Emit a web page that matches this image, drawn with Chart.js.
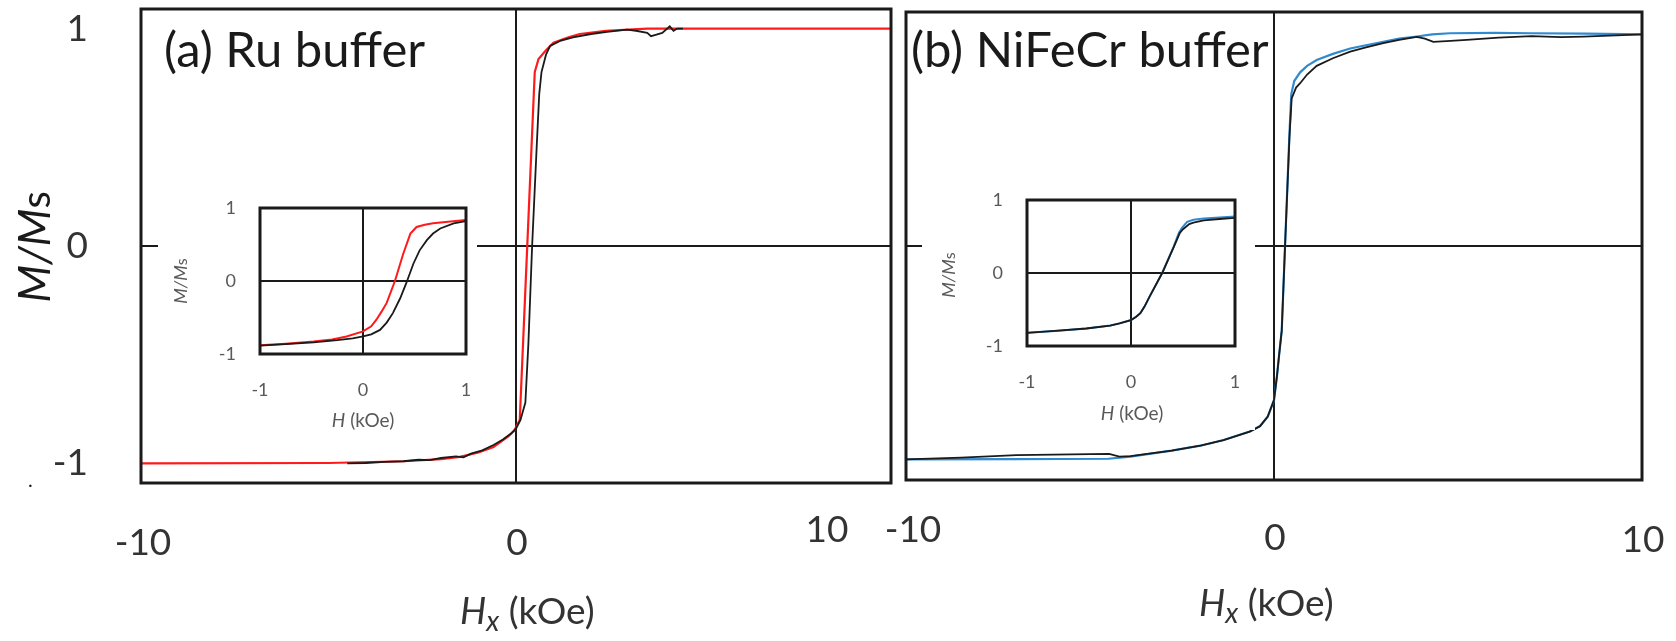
<!DOCTYPE html>
<html>
<head>
<meta charset="utf-8">
<script src="https://cdn.jsdelivr.net/npm/chart.js@4/dist/chart.umd.min.js"></script>
<style>
  html, body { margin: 0; padding: 0; background: #fff; }
  #wrap { position: relative; width: 1676px; height: 641px; overflow: hidden; }
  canvas { position: absolute; }
  #cA { left: 0; top: 0; }
  #cB { left: 860px; top: 0; }
  #iA { left: 158px; top: 190px; background: #fff; }
  #iB { left: 922px; top: 185px; background: #fff; }
</style>
</head>
<body>
<div id="wrap">
  <canvas id="cA" width="898" height="641"></canvas>
  <canvas id="cB" width="816" height="641"></canvas>
  <canvas id="iA" width="319" height="245"></canvas>
  <canvas id="iB" width="333" height="245"></canvas>
</div>
<script>
/* ===== DATA: [H (kOe), M/Ms] ===== */
const mainXTicks = [-10, 0, 10];
const mainYTicks = [-1, 0, 1];
const insetTicks = [-1, 0, 1];

// (a) Ru buffer, main loop
const ruRed = [[-10,-1],[-5,-0.998],[-3,-0.99],[-2,-0.98],[-1.5,-0.97],[-1,-0.95],[-0.6,-0.925],[-0.4,-0.9],
  [-0.2,-0.875],[-0.05,-0.85],[0.1,-0.8],[0.2,-0.4],[0.3,0],[0.4,0.4],[0.5,0.8],[0.6,0.86],[0.8,0.9],
  [1.0,0.935],[1.4,0.96],[1.7,0.975],[2.4,0.99],[3.5,1.0],[10,1.0]];
const ruBlack = [[-4.5,-1.0],[-4,-0.998],[-3.5,-0.993],[-3,-0.99],[-2.6,-0.983],[-2.3,-0.985],[-2,-0.975],
  [-1.6,-0.968],[-1.4,-0.972],[-1.2,-0.955],[-0.9,-0.94],[-0.6,-0.915],[-0.35,-0.89],[-0.15,-0.865],[0,-0.84],
  [0.12,-0.8],[0.25,-0.72],[0.33,-0.45],[0.43,0],[0.55,0.45],[0.62,0.7],[0.68,0.8],[0.8,0.88],[0.91,0.92],
  [1.2,0.945],[1.52,0.96],[2.0,0.975],[2.43,0.985],[2.96,0.995],[3.2,0.99],[3.5,0.98],[3.6,0.965],[3.7,0.97],
  [3.9,0.98],[4.1,1.01],[4.2,0.99],[4.3,1.0],[4.45,1.0]];

// (b) NiFeCr buffer, main loop
const nfcBlue = [[-10,-0.983],[-7,-0.982],[-4.5,-0.98],[-3.9,-0.97],[-2.78,-0.943],[-2,-0.92],[-1.37,-0.894],
  [-0.66,-0.855],[-0.38,-0.83],[-0.17,-0.786],[0,-0.71],[0.08,-0.6],[0.14,-0.5],[0.21,-0.39],[0.3,0],
  [0.42,0.52],[0.47,0.7],[0.55,0.76],[0.71,0.8],[0.9,0.83],[1.16,0.857],[1.6,0.885],[2.07,0.91],[2.5,0.925],
  [2.97,0.94],[3.4,0.955],[3.88,0.965],[4.3,0.975],[4.78,0.98],[6,0.982],[7,0.98],[8.5,0.978],[10,0.975]];
const nfcBlack = [[-10,-0.983],[-8.5,-0.975],[-7,-0.963],[-5.5,-0.96],[-4.48,-0.958],[-4.2,-0.97],[-3.9,-0.968],
  [-2.78,-0.943],[-2,-0.92],[-1.37,-0.894],[-0.66,-0.855],[-0.38,-0.83],[-0.17,-0.786],[0,-0.71],[0.08,-0.6],
  [0.14,-0.5],[0.21,-0.39],[0.3,0],[0.42,0.5],[0.48,0.68],[0.6,0.73],[0.71,0.75],[0.9,0.79],[1.16,0.83],
  [1.6,0.865],[2.07,0.895],[2.5,0.915],[2.97,0.935],[3.4,0.95],[3.88,0.963],[4.1,0.955],[4.33,0.94],
  [4.8,0.945],[5.24,0.95],[6.1,0.96],[7,0.967],[7.8,0.962],[8.4,0.965],[9.3,0.97],[10,0.975]];

// insets, H (kOe)
const ruInsetRed = [[-1,-0.88],[-0.75,-0.86],[-0.48,-0.83],[-0.3,-0.8],[-0.16,-0.76],[0,-0.69],[0.08,-0.62],
  [0.13,-0.53],[0.18,-0.42],[0.23,-0.3],[0.31,0],[0.39,0.37],[0.46,0.65],[0.52,0.74],[0.6,0.77],[0.68,0.79],
  [0.85,0.815],[1.0,0.835]];
const ruInsetBlack = [[-1,-0.885],[-0.75,-0.865],[-0.48,-0.84],[-0.25,-0.81],[-0.1,-0.785],[0,-0.76],[0.08,-0.73],
  [0.165,-0.67],[0.23,-0.57],[0.29,-0.44],[0.36,-0.24],[0.42,-0.03],[0.49,0.24],[0.55,0.42],[0.62,0.56],
  [0.68,0.65],[0.75,0.72],[0.88,0.79],[1.0,0.82]];
const nfcInsetBlue = [[-1,-0.82],[-0.7,-0.79],[-0.43,-0.76],[-0.2,-0.72],[-0.11,-0.69],[0,-0.645],[0.05,-0.6],
  [0.09,-0.55],[0.13,-0.46],[0.18,-0.32],[0.3,0],[0.41,0.36],[0.46,0.55],[0.49,0.62],[0.54,0.7],[0.6,0.73],
  [0.7,0.745],[0.85,0.76],[1.0,0.775]];
const nfcInsetBlack = [[-1,-0.82],[-0.7,-0.79],[-0.43,-0.76],[-0.2,-0.72],[-0.11,-0.69],[0,-0.645],[0.05,-0.6],
  [0.09,-0.55],[0.13,-0.46],[0.18,-0.32],[0.3,0],[0.41,0.35],[0.47,0.55],[0.5,0.6],[0.56,0.67],[0.6,0.69],
  [0.7,0.72],[0.85,0.74],[1.0,0.755]];

/* ===== HELPERS ===== */
const FONT = 'Lato, "Open Sans", sans-serif';
const INK = '#1a1a1a';
const GREY = '#595959';
const RED = '#ff1a1a', BLUE = '#2f8ad0';
const toXY = arr => arr.map(([x, y]) => ({ x, y }));
const zeroOnly = c => (c.tick && c.tick.value === 0 ? INK : 'rgba(0,0,0,0)');

// draw a run of text pieces (italic / smaller / shifted parts)
function drawRich(ctx, s) {
  const fontOf = p => `${p.italic ? 'italic ' : ''}${p.size || s.size}px ${FONT}`;
  ctx.save();
  ctx.fillStyle = s.color || INK;
  ctx.textAlign = 'left';
  ctx.textBaseline = 'alphabetic';
  let w = 0;
  s.parts.forEach(p => { ctx.font = fontOf(p); w += ctx.measureText(p.t).width; });
  ctx.translate(s.x, s.y);
  if (s.rot) ctx.rotate(s.rot);
  let cx = s.align === 'center' ? -w / 2 : 0;
  s.parts.forEach(p => {
    ctx.font = fontOf(p);
    ctx.fillText(p.t, cx, p.dy || 0);
    cx += ctx.measureText(p.t).width;
  });
  ctx.restore();
}

// Plugin: box round the plot, hand-placed x labels, titles
const frameText = {
  id: 'frameText',
  afterDraw(chart, args, o) {
    const { ctx, chartArea: a } = chart;
    ctx.save();
    ctx.strokeStyle = INK;
    ctx.lineWidth = o.frameWidth || 3;
    ctx.strokeRect(a.left, a.top, a.right - a.left, a.bottom - a.top);
    ctx.restore();
    if (o.xLabels) {
      const xs = chart.scales.x, L = o.xLabels;
      ctx.save();
      ctx.font = `${L.size}px ${FONT}`;
      ctx.fillStyle = L.color;
      ctx.textAlign = 'center';
      ctx.textBaseline = 'middle';
      L.values.forEach((v, i) => {
        const [dx, y] = L.place[i];
        ctx.fillText(String(v), xs.getPixelForValue(v) + dx, y);
      });
      ctx.restore();
    }
    (o.texts || []).forEach(t => drawRich(ctx, t));
  }
};

function makeChart(id, datasets, c) {
  return new Chart(document.getElementById(id), {
    type: 'scatter',
    data: {
      datasets: datasets.map(d => ({
        data: toXY(d.data), borderColor: d.color, borderWidth: d.width,
        showLine: true, pointRadius: 0, fill: false, tension: 0
      }))
    },
    options: {
      responsive: false, animation: false, events: [],
      layout: { padding: c.padding },
      plugins: { legend: { display: false }, tooltip: { enabled: false }, frameText: c.frame },
      scales: {
        x: {
          type: 'linear', min: c.xMin, max: c.xMax,
          afterBuildTicks: s => { s.ticks = c.xTicks.map(v => ({ value: v })); },
          afterFit: s => { s.height = c.xHeight; s.paddingLeft = 0; s.paddingRight = 0; },
          border: { display: false },
          grid: { drawTicks: false, lineWidth: 2, color: zeroOnly },
          ticks: Object.assign({ maxRotation: 0, autoSkip: false }, c.xTickOpts)
        },
        y: {
          type: 'linear', min: c.yMin, max: c.yMax,
          afterBuildTicks: s => { s.ticks = c.yTicks.map(v => ({ value: v })); },
          // tick padding would otherwise push the plot top down
          afterFit: s => { s.width = c.yWidth; s.paddingTop = 0; s.paddingBottom = 0; },
          border: { display: false },
          grid: { drawTicks: false, lineWidth: 2, color: zeroOnly },
          ticks: Object.assign({ autoSkip: false }, c.yTickOpts)
        }
      }
    },
    plugins: [frameText]
  });
}

const mainTick = { family: FONT, size: 37 };
const insetTick = { family: FONT, size: 18 };
const hxTitle = [{ t: 'H', italic: true }, { t: 'x', italic: true, size: 28, dy: 7 }, { t: ' (kOe)' }];

/* ===== (a) Ru buffer ===== */
makeChart('cA', [
  { data: ruBlack, color: INK, width: 1.8 },
  { data: ruRed, color: RED, width: 2.2 }
], {
  padding: { top: 9, right: 7, left: 0, bottom: 0 },
  xMin: -10, xMax: 10, yMin: -1.09, yMax: 1.09,
  xTicks: mainXTicks, yTicks: mainYTicks, xHeight: 158, yWidth: 141,
  xTickOpts: { display: false },
  yTickOpts: { display: true, font: mainTick, color: '#333', padding: 53 },
  frame: {
    xLabels: { values: mainXTicks, size: 37, color: '#333', place: [[2, 543], [1, 543], [-64, 530]] },
    texts: [
      { x: 164, y: 67, size: 49, parts: [{ t: '(a) Ru buffer' }] },
      { x: 50, y: 247, rot: -Math.PI / 2, align: 'center', size: 44,
        parts: [{ t: 'M/M', italic: true }, { t: 's', size: 40 }] },
      { x: 460, y: 624, size: 37, color: '#333', parts: hxTitle },
      { x: 28, y: 487, size: 20, parts: [{ t: '.' }] }
    ]
  }
});

/* ===== (b) NiFeCr buffer ===== */
makeChart('cB', [
  { data: nfcBlack, color: INK, width: 1.8 },
  { data: nfcBlue, color: BLUE, width: 2.2 }
], {
  padding: { top: 12, right: 34, left: 0, bottom: 0 },
  xMin: -10, xMax: 10, yMin: -1.078, yMax: 1.078,
  xTicks: mainXTicks, yTicks: mainYTicks, xHeight: 161, yWidth: 46,
  xTickOpts: { display: false },
  yTickOpts: { display: false },
  frame: {
    xLabels: { values: mainXTicks, size: 37, color: '#333', place: [[7, 530], [1, 538], [1, 540]] },
    texts: [
      { x: 51, y: 67, size: 49, parts: [{ t: '(b) NiFeCr buffer' }] },
      { x: 339, y: 616, size: 37, color: '#333', parts: hxTitle }
    ]
  }
});

/* ===== insets ===== */
function inset(id, sets, pad, xH, yW, titlePos, yTitlePos) {
  makeChart(id, sets, {
    padding: pad,
    xMin: -1, xMax: 1, yMin: -1, yMax: 1,
    xTicks: insetTicks, yTicks: insetTicks, xHeight: xH, yWidth: yW,
    xTickOpts: { display: true, font: insetTick, color: GREY, padding: 25 },
    yTickOpts: { display: true, font: insetTick, color: GREY, padding: 24 },
    frame: {
      frameWidth: 3,
      texts: [
        { x: titlePos[0], y: titlePos[1], align: 'center', size: 19, color: GREY,
          parts: [{ t: 'H', italic: true }, { t: ' (kOe)' }] },
        { x: yTitlePos[0], y: yTitlePos[1], rot: -Math.PI / 2, align: 'center', size: 18, color: GREY,
          parts: [{ t: 'M/M', italic: true }, { t: 's', size: 16 }] }
      ]
    }
  });
}

inset('iA', [
  { data: ruInsetBlack, color: INK, width: 1.8 },
  { data: ruInsetRed, color: RED, width: 2 }
], { top: 18, right: 11, left: 0, bottom: 0 }, 81, 102, [205, 237], [29, 91]);

inset('iB', [
  { data: nfcInsetBlack, color: INK, width: 1.8 },
  { data: nfcInsetBlue, color: BLUE, width: 2 }
], { top: 15, right: 20, left: 0, bottom: 0 }, 84, 105, [210, 235], [33, 90]);
</script>
</body>
</html>
